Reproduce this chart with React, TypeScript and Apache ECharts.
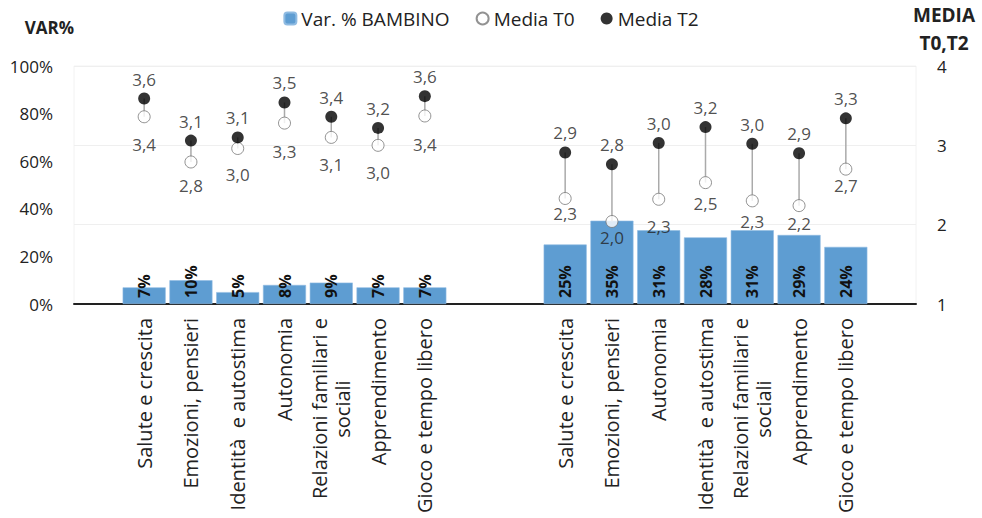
import React, { useEffect, useRef } from "react";
import * as echarts from "echarts";

const leftCategories = [
  "Salute e crescita",
  "Emozioni, pensieri",
  "Identità  e autostima",
  "Autonomia",
  "Relazioni familiari e\nsociali",
  "Apprendimento",
  "Gioco e tempo libero",
];
const rightCategories = [
  "Salute e crescita",
  "Emozioni, pensieri",
  "Autonomia",
  "Identità  e autostima",
  "Relazioni familiari e\nsociali",
  "Apprendimento",
  "Gioco e tempo libero",
];
const leftVar = [7, 10, 5, 8, 9, 7, 7];
const rightVar = [25, 35, 31, 28, 31, 29, 24];
const leftT0 = [3.36, 2.79, 2.96, 3.28, 3.1, 3.0, 3.37];
const leftT2 = [3.59, 3.06, 3.1, 3.54, 3.36, 3.22, 3.62];
const rightT0 = [2.33, 2.04, 2.32, 2.53, 2.3, 2.24, 2.7];
const rightT2 = [2.91, 2.76, 3.03, 3.23, 3.02, 2.9, 3.34];
const leftTicks = [0, 20, 40, 60, 80, 100];
const rightTicks = [1, 2, 3, 4];

// label gap (px, dot centre to label centre) below the T0 dots
const leftT0Gap = [28, 24, 26, 28, 27, 27, 29];
const rightT0Gap = [14, 16, 27, 21, 21, 18, 16];

const FONT = "'Open Sans', 'Noto Sans', sans-serif";
const NBSP = "\u00A0";

export default function App() {
  const ref = useRef<HTMLDivElement>(null);

  useEffect(() => {
    document.body.style.margin = "0";
    const chart = echarts.init(ref.current!, null, { renderer: "svg" });

    const categories = ["", ...leftCategories, "", "", ...rightCategories, ""];
    const leftIdx = leftCategories.map((_, i) => i + 1);
    const rightIdx = rightCategories.map((_, i) => i + 10);

    const barData: any[] = categories.map(() => "-");
    leftIdx.forEach((ix, i) => (barData[ix] = leftVar[i]));
    rightIdx.forEach((ix, i) => (barData[ix] = rightVar[i]));

    const fmt = (v: number) => v.toFixed(1).replace(".", ",");

    const t0Data: any[] = [];
    const t2Data: any[] = [];
    const rangeData: any[] = [];
    const addGroup = (idx: number[], t0: number[], t2: number[], gaps: number[]) => {
      idx.forEach((ix, i) => {
        t0Data.push({ value: [ix, t0[i]], label: { distance: Math.max(0, gaps[i] - 15) } });
        t2Data.push({ value: [ix, t2[i]] });
        rangeData.push([ix, t0[i], t2[i]]);
      });
    };
    addGroup(leftIdx, leftT0, leftT2, leftT0Gap);
    addGroup(rightIdx, rightT0, rightT2, rightT0Gap);

    chart.setOption({
      animation: false,
      textStyle: { fontFamily: FONT },
      legend: {
        data: ["Var. % BAMBINO", "Media T0", "Media T2"],
        top: 4,
        left: "center",
        itemWidth: 12,
        itemHeight: 12,
        itemGap: 26,
        textStyle: { fontSize: 19, color: "#222", fontFamily: FONT },
      },
      grid: {
        left: 74,
        right: 66,
        top: 66,
        bottom: 214,
        show: true,
        borderColor: "#f2f2f2",
        borderWidth: 1,
      },
      xAxis: {
        type: "category",
        data: categories,
        axisLine: { lineStyle: { color: "#222", width: 2 } },
        axisTick: { show: false },
        axisLabel: {
          interval: 0,
          rotate: 90,
          margin: 14,
          fontSize: 20,
          color: "#222",
          lineHeight: 23,
          fontFamily: FONT,
          formatter: (v: string) => v.replace("\nsociali", "\nsociali" + NBSP.repeat(12)),
        },
      },
      yAxis: [
        {
          type: "value",
          min: 0,
          max: 100,
          interval: 20,
          name: "VAR%",
          nameLocation: "end",
          nameGap: 39,
          nameTextStyle: {
            fontSize: 17,
            fontWeight: "bold",
            color: "#222",
            align: "right",
            verticalAlign: "middle",
            fontFamily: FONT,
          },
          axisLine: { show: false },
          axisTick: { show: false },
          splitLine: { show: false },
          axisLabel: {
            formatter: (v: number) => (leftTicks.includes(v) ? v + "%" : ""),
            fontSize: 17,
            color: "#222",
            margin: 21,
            fontFamily: FONT,
          },
        },
        {
          type: "value",
          min: 1,
          max: 4,
          interval: 1,
          position: "right",
          name: "MEDIA\nT0,T2",
          nameLocation: "end",
          nameGap: 37,
          nameTextStyle: {
            fontSize: 19,
            fontWeight: "bold",
            color: "#222",
            align: "center",
            verticalAlign: "middle",
            lineHeight: 28,
            padding: [0, 0, 0, 56],
            fontFamily: FONT,
          },
          axisLine: { show: false },
          axisTick: { show: false },
          splitLine: { show: true, lineStyle: { color: "#efefef", width: 1 } },
          axisLabel: {
            formatter: (v: number) => (rightTicks.includes(v) ? String(v) : ""),
            fontSize: 17,
            color: "#222",
            margin: 21,
            fontFamily: FONT,
          },
        },
      ],
      series: [
        {
          name: "Var. % BAMBINO",
          type: "bar",
          data: barData,
          barCategoryGap: "8%",
          itemStyle: { color: "#5e9dd2", borderColor: "#8fbbe2", borderWidth: 0.6 },
          label: {
            show: true,
            position: "insideBottom",
            rotate: 90,
            align: "left",
            verticalAlign: "middle",
            distance: 6,
            formatter: (p: any) => p.value + "%",
            fontSize: 16,
            fontWeight: "bold",
            color: "#111",
            fontFamily: FONT,
          },
          z: 1,
        },
        {
          name: "range",
          type: "custom",
          yAxisIndex: 1,
          data: rangeData,
          encode: { x: 0, y: [1, 2] },
          renderItem: (params: any, api: any) => {
            const a = api.coord([api.value(0), api.value(1)]);
            const b = api.coord([api.value(0), api.value(2)]);
            return {
              type: "line",
              shape: { x1: a[0], y1: a[1], x2: b[0], y2: b[1] },
              style: { stroke: "#aaaaaa", lineWidth: 1.5 },
            };
          },
          z: 2,
          silent: true,
        },
        {
          name: "Media T0",
          type: "scatter",
          yAxisIndex: 1,
          data: t0Data,
          symbol: "circle",
          symbolSize: 12,
          itemStyle: { color: "#ffffff", borderColor: "#777777", borderWidth: 1 },
          label: {
            show: true,
            position: "bottom",
            formatter: (p: any) => fmt(p.value[1]),
            fontSize: 17,
            color: "#222",
            fontFamily: FONT,
          },
          z: 3,
        },
        {
          name: "Media T2",
          type: "scatter",
          yAxisIndex: 1,
          data: t2Data,
          symbol: "circle",
          symbolSize: 12,
          itemStyle: { color: "#000000" },
          label: {
            show: true,
            position: "top",
            distance: 5,
            formatter: (p: any) => fmt(p.value[1]),
            fontSize: 17,
            color: "#222",
            fontFamily: FONT,
          },
          z: 4,
        },
      ],
    });

    return () => chart.dispose();
  }, []);

  return <div ref={ref} style={{ width: 982, height: 518 }} />;
}
